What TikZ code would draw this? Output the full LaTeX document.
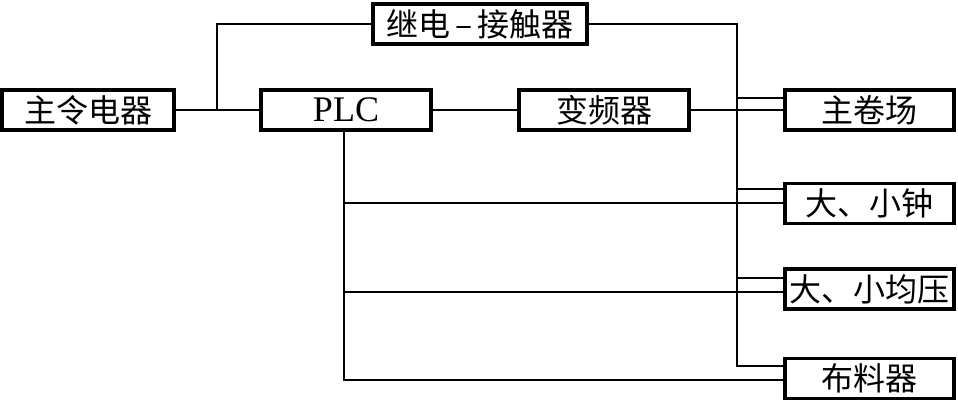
\documentclass[tikz,border=0pt]{standalone}
\usepackage{fontspec}
\setmainfont{Liberation Serif}
\newfontfamily\cjk{Noto Sans CJK SC}
\begin{document}
\begin{tikzpicture}[x=1pt,y=-1pt,
  blk/.style={draw,line width=3.4pt,minimum width=#1,minimum height=40pt,inner sep=0pt,font=\cjk\fontsize{32}{33}\selectfont},
  blk/.default=170pt,
  ln/.style={line width=1.2pt}]
\useasboundingbox (0,0) rectangle (958,405);
\node[blk=172pt] (zl) at (88,110) {主令电器};
\node[blk=170pt,font=\fontsize{36}{37}\selectfont] (plc) at (346,110) {PLC};
\node[blk=170pt] (bp) at (604,110) {变频器};
\node[blk=214pt] (jd) at (480,24) {继电\,–\,接触器};
\node[blk=169pt] (zj) at (869.5,110) {主卷场};
\node[blk=169pt] (dz) at (869.5,203.5) {大、小钟};
\node[blk=169pt] (dy) at (869.5,289) {大、小均压};
\node[blk=169pt] (bl) at (869.5,378.5) {布料器};
\coordinate (br) at (217,110);
\coordinate (p) at (344,131);
\draw[ln] (zl.east) -- (plc.west);
\draw[ln] (br) |- (jd.west);
\draw[ln] (plc.east) -- (bp.east -| bp.west);
\draw[ln] (bp.east) -- (bp.east -| zj.west);
\draw[ln] (jd.east) -| (737,366) -- (737,366 -| bl.west);
\draw[ln] (737,98) -- (737,98 -| zj.west);
\draw[ln] (737,189) -- (737,189 -| dz.west);
\draw[ln] (737,278) -- (737,278 -| dy.west);
\draw[ln] (p) -- (344,380) -- (344,380 -| bl.west);
\draw[ln] (344,203) -- (344,203 -| dz.west);
\draw[ln] (344,292) -- (344,292 -| dy.west);
\end{tikzpicture}
\end{document}
